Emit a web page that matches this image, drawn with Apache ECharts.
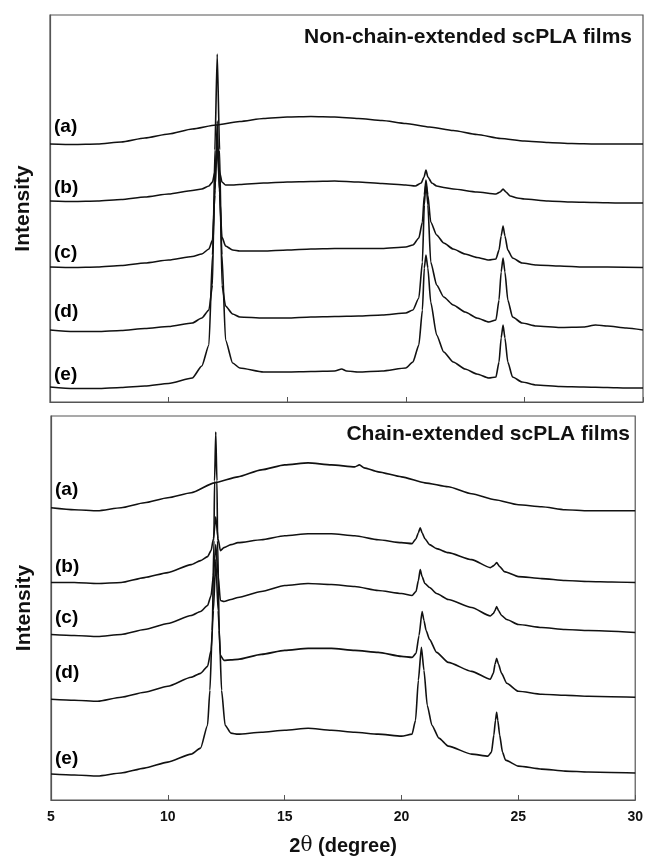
<!DOCTYPE html>
<html lang="en">
<head>
<meta charset="UTF-8">
<script src="https://cdn.jsdelivr.net/npm/echarts@6/dist/echarts.min.js"></script>
<title>XRD scPLA films</title>
<style>
  html, body { margin: 0; padding: 0; background: #fff; }
  #chart { width: 646px; height: 857px; }
</style>
</head>
<body>
<div id="chart"></div>
<script>
  // curve labels, same for both panels
  const curveNames = ['(a)', '(b)', '(c)', '(d)', '(e)'];

  // top panel: non-chain-extended films, [2theta, intensity] with stacking offset included
  const topA = [[5,258],[6,257.5],[7,258],[8,260],[9,264],[10,268],[11,273],[12,277],[13,280.5],[14,283.5],[15,285],[16,285.5],[17,285],[18,283.5],[19,281.5],[20,278.5],[21,275],[22,271.5],[23,267.5],[24,263.5],[25,261],[26,259.5],[27,258.5],[28,258],[29,258],[30,258]];
  const topB = [[5,201],[6,200.5],[7,201],[8,202.5],[9,205],[10,208],[11,211.5],[11.4,213],[11.7,216],[11.85,220],[11.95,230],[12.05,252],[12.15,230],[12.25,220],[12.4,217],[12.7,217],[13,217.5],[14,219],[15,220],[16,220.5],[17,221],[18,220],[19,218.5],[20,217],[20.4,216],[20.65,219],[20.77,225],[20.85,232],[20.93,225],[21.1,219],[21.3,216],[21.6,214.5],[22,213],[23,210],[23.8,208],[23.98,210],[24.1,213],[24.22,210],[24.4,206],[24.7,204],[25,203],[26,201],[27,200],[28,199.5],[29,199],[30,199]];
  const topC = [[5,135],[6,134.5],[7,135],[8,136.5],[9,139],[10,142],[11,145.5],[11.4,148],[11.7,153],[11.85,162],[11.95,207],[12.05,281],[12.15,207],[12.25,165],[12.4,156],[12.7,152],[13,151],[14,151],[15,152],[16,153],[17,153.5],[18,153.5],[19,153.5],[20,155],[20.3,157],[20.55,164],[20.7,180],[20.78,207],[20.85,222],[20.93,207],[21.05,180],[21.3,167],[21.6,159],[22,153],[22.5,148],[23,144.5],[23.5,142],[23.8,143],[23.93,152],[24.02,166],[24.1,176],[24.18,166],[24.3,152],[24.5,144],[24.9,139],[25.5,137],[26.5,136],[27.5,135],[28.5,135],[30,134.5]];
  const topD = [[5,72],[6,70.5],[7,70.5],[8,71.5],[9,73.5],[10,75.5],[11,79],[11.4,84],[11.7,92],[11.85,117],[11.95,252],[12.05,348],[12.15,252],[12.25,117],[12.4,96],[12.7,88],[13,85],[14,84],[15,84],[16,85],[17,85.5],[18,86],[19,87],[20,89],[20.3,92],[20.55,104],[20.7,140],[20.78,197],[20.85,220],[20.93,197],[21.05,140],[21.3,117],[21.6,105],[22,97],[22.5,90],[23,84],[23.5,80],[23.8,82],[23.93,102],[24.02,130],[24.1,144],[24.18,130],[24.3,102],[24.5,85],[24.9,79],[25.5,76],[26.5,74.5],[27.5,75],[28,77],[28.5,76],[29.3,74],[30,72]];
  const topE = [[5,15],[6,13.5],[7,13.5],[8,14.5],[9,16],[10,18.5],[11,24],[11.4,36],[11.7,57],[11.85,147],[11.95,212],[12.05,259],[12.15,212],[12.25,147],[12.4,62],[12.7,39],[13,34],[14,30],[15,30],[16,30.5],[17,31],[17.3,33],[17.5,31],[18,30],[19,31],[20,34],[20.3,40],[20.55,57],[20.7,92],[20.78,134],[20.85,147],[20.93,134],[21.05,100],[21.3,67],[21.6,50],[22,40],[22.5,33],[23,28],[23.5,24],[23.8,25],[23.93,40],[24.02,64],[24.1,77],[24.18,64],[24.3,40],[24.5,25],[24.9,20],[25.5,17],[26.5,15.5],[27.5,15],[28.5,14.5],[29.3,14],[30,14]];

  // bottom panel: chain-extended films
  const botA = [[5,293],[6,291],[7,290],[8,293],[9,298],[10,303],[11,308],[12,318],[13,324],[14,331],[15,336],[16,338],[17,336],[18,334],[18.2,336],[18.4,333],[19,329],[20,324],[21,318],[22,314],[23,307],[24,301],[25,296],[26,294],[27,291],[28,290],[29,290],[30,290]];
  const botB = [[5,218],[6,218],[7,217],[8,218],[9,223],[10,228],[11,236],[11.4,240],[11.7,244],[11.85,250],[11.95,262],[12.05,284],[12.15,262],[12.25,250],[12.4,253],[12.7,256],[13,258],[14,261],[15,265],[16,267],[17,267],[18,265],[19,261],[20,258],[20.45,257],[20.62,262],[20.72,268],[20.8,273],[20.88,268],[21,262],[21.2,256],[21.5,252],[22,248],[23,241],[23.8,233],[23.95,235],[24.07,238],[24.2,234],[24.4,229],[25,224],[26,222],[27,220],[28,219],[29,218.5],[30,218]];
  const botC = [[5,166],[6,165],[7,164],[8,166],[9,171],[10,177],[11,185],[11.4,189],[11.7,195],[11.85,205],[11.95,225],[12.05,256],[12.15,225],[12.25,200],[12.4,199],[12.7,201],[13,203],[14,209],[15,215],[16,217],[17,216],[18,214],[19,210],[20,207],[20.45,205],[20.62,209],[20.72,220],[20.8,231],[20.88,224],[21,217],[21.2,213],[21.5,207],[22,201],[23,193],[23.8,184.5],[23.93,187],[24,190],[24.07,194],[24.15,190],[24.28,185],[24.5,181],[25,176],[26,173],[27,171],[28,170],[30,168]];
  const botD = [[5,101],[6,100],[7,99],[8,103],[9,108],[10,114],[11,123],[11.4,127],[11.7,134],[11.85,150],[11.95,190],[12.05,241],[12.15,190],[12.25,145],[12.4,140],[12.7,140.5],[13,141],[14,146],[15,150],[16,152],[17,152],[18,150],[19,148],[20,144],[20.45,143],[20.62,147],[20.75,165],[20.88,189],[20.96,180],[21.05,170],[21.2,161],[21.5,148],[22,138],[23,129],[23.8,121],[23.93,127],[24,136],[24.07,142],[24.15,136],[24.28,127],[24.5,117],[25,109],[26,106],[27,105],[28,104],[30,103]];
  const botE = [[5,26],[6,25],[7,24],[8,27],[9,32],[10,38],[11,46],[11.4,52],[11.7,75],[11.8,110],[11.9,170],[11.97,260],[12,320],[12.05,369],[12.1,320],[12.13,260],[12.2,170],[12.3,110],[12.45,75],[12.7,67],[13,66],[14,68],[15,70],[16,72],[17,70],[18,68],[19,66],[20,64],[20.45,66],[20.6,80],[20.72,120],[20.85,153],[20.96,130],[21.1,95],[21.3,75],[21.6,62],[22,54],[23,46],[23.7,44],[23.85,48],[23.95,65],[24.02,80],[24.07,88],[24.12,80],[24.2,65],[24.32,48],[24.45,40],[25,34],[26,31],[27,29],[28,28],[30,27]];

  // where the (a)..(e) tags sit, in intensity units at 2theta = 5
  const topLabelY = [275, 214, 149, 90, 27];
  const botLabelY = [311, 234, 183, 128, 41];

  const topTitle = 'Non-chain-extended scPLA films';
  const botTitle = 'Chain-extended scPLA films';

  const chart = echarts.init(document.getElementById('chart'));
  const font = "'Liberation Sans', Arial, sans-serif";
  const ink = '#111';

  function curve(data, idx) {
    return {
      type: 'line', xAxisIndex: idx, yAxisIndex: idx, data: data,
      symbol: 'none', showSymbol: false, silent: true,
      smooth: 0.2, smoothMonotone: 'x',
      lineStyle: { color: ink, width: 1.6 }
    };
  }

  function tags(ys, idx) {
    return {
      type: 'scatter', xAxisIndex: idx, yAxisIndex: idx, symbolSize: 0, silent: true,
      itemStyle: { opacity: 1, color: ink },
      data: ys.map((y, i) => ({ value: [5, y], name: curveNames[i] })),
      label: {
        show: true, position: 'right', distance: 4, formatter: '{b}', opacity: 1,
        color: '#000', fontFamily: font, fontWeight: 'bold', fontSize: 19
      }
    };
  }

  function xAx(idx, withLabels) {
    const ax = {
      type: 'value', gridIndex: idx, min: 5, max: 30, interval: 5,
      axisLine: { show: true, lineStyle: { color: '#555', width: 1.2 } },
      axisTick: { show: true, inside: true, length: 5, lineStyle: { color: '#555' } },
      axisLabel: { show: withLabels, color: ink, fontFamily: font, fontWeight: 'bold', fontSize: 14, margin: 10 },
      splitLine: { show: false }
    };
    if (withLabels) {
      ax.name = '{b|2}{t|θ}{b| (degree)}';
      ax.nameLocation = 'middle';
      ax.nameGap = 36;
      ax.nameTextStyle = {
        rich: {
          b: { fontFamily: font, fontWeight: 'bold', fontSize: 20, color: ink },
          t: { fontFamily: "'DejaVu Serif', serif", fontSize: 20, color: ink }
        }
      };
    }
    return ax;
  }

  function yAx(idx, max) {
    return {
      type: 'value', gridIndex: idx, min: 0, max: max,
      name: 'Intensity', nameLocation: 'middle', nameGap: 16,
      nameTextStyle: { color: ink, fontFamily: font, fontWeight: 'bold', fontSize: 21 },
      axisLine: { show: true, lineStyle: { color: '#555', width: 1.2 } },
      axisTick: { show: false }, axisLabel: { show: false }, splitLine: { show: false }
    };
  }

  const option = {
    animation: false,
    backgroundColor: '#fff',
    title: [
      { text: topTitle, right: 9, top: 22, textStyle: { color: ink, fontFamily: font, fontWeight: 'bold', fontSize: 21 } },
      { text: botTitle, right: 11, top: 419, textStyle: { color: ink, fontFamily: font, fontWeight: 'bold', fontSize: 21 } }
    ],
    grid: [
      { left: 50, right: 3, top: 15, height: 387, show: true, borderColor: '#555', borderWidth: 1.2 },
      { left: 51, right: 6, top: 416, height: 385, show: true, borderColor: '#555', borderWidth: 1.2 }
    ],
    xAxis: [xAx(0, false), xAx(1, true)],
    yAxis: [yAx(0, 387), yAx(1, 385)],
    series: [
      curve(topA, 0), curve(topB, 0), curve(topC, 0), curve(topD, 0), curve(topE, 0),
      curve(botA, 1), curve(botB, 1), curve(botC, 1), curve(botD, 1), curve(botE, 1),
      tags(topLabelY, 0), tags(botLabelY, 1)
    ]
  };

  chart.setOption(option);
</script>
</body>
</html>
